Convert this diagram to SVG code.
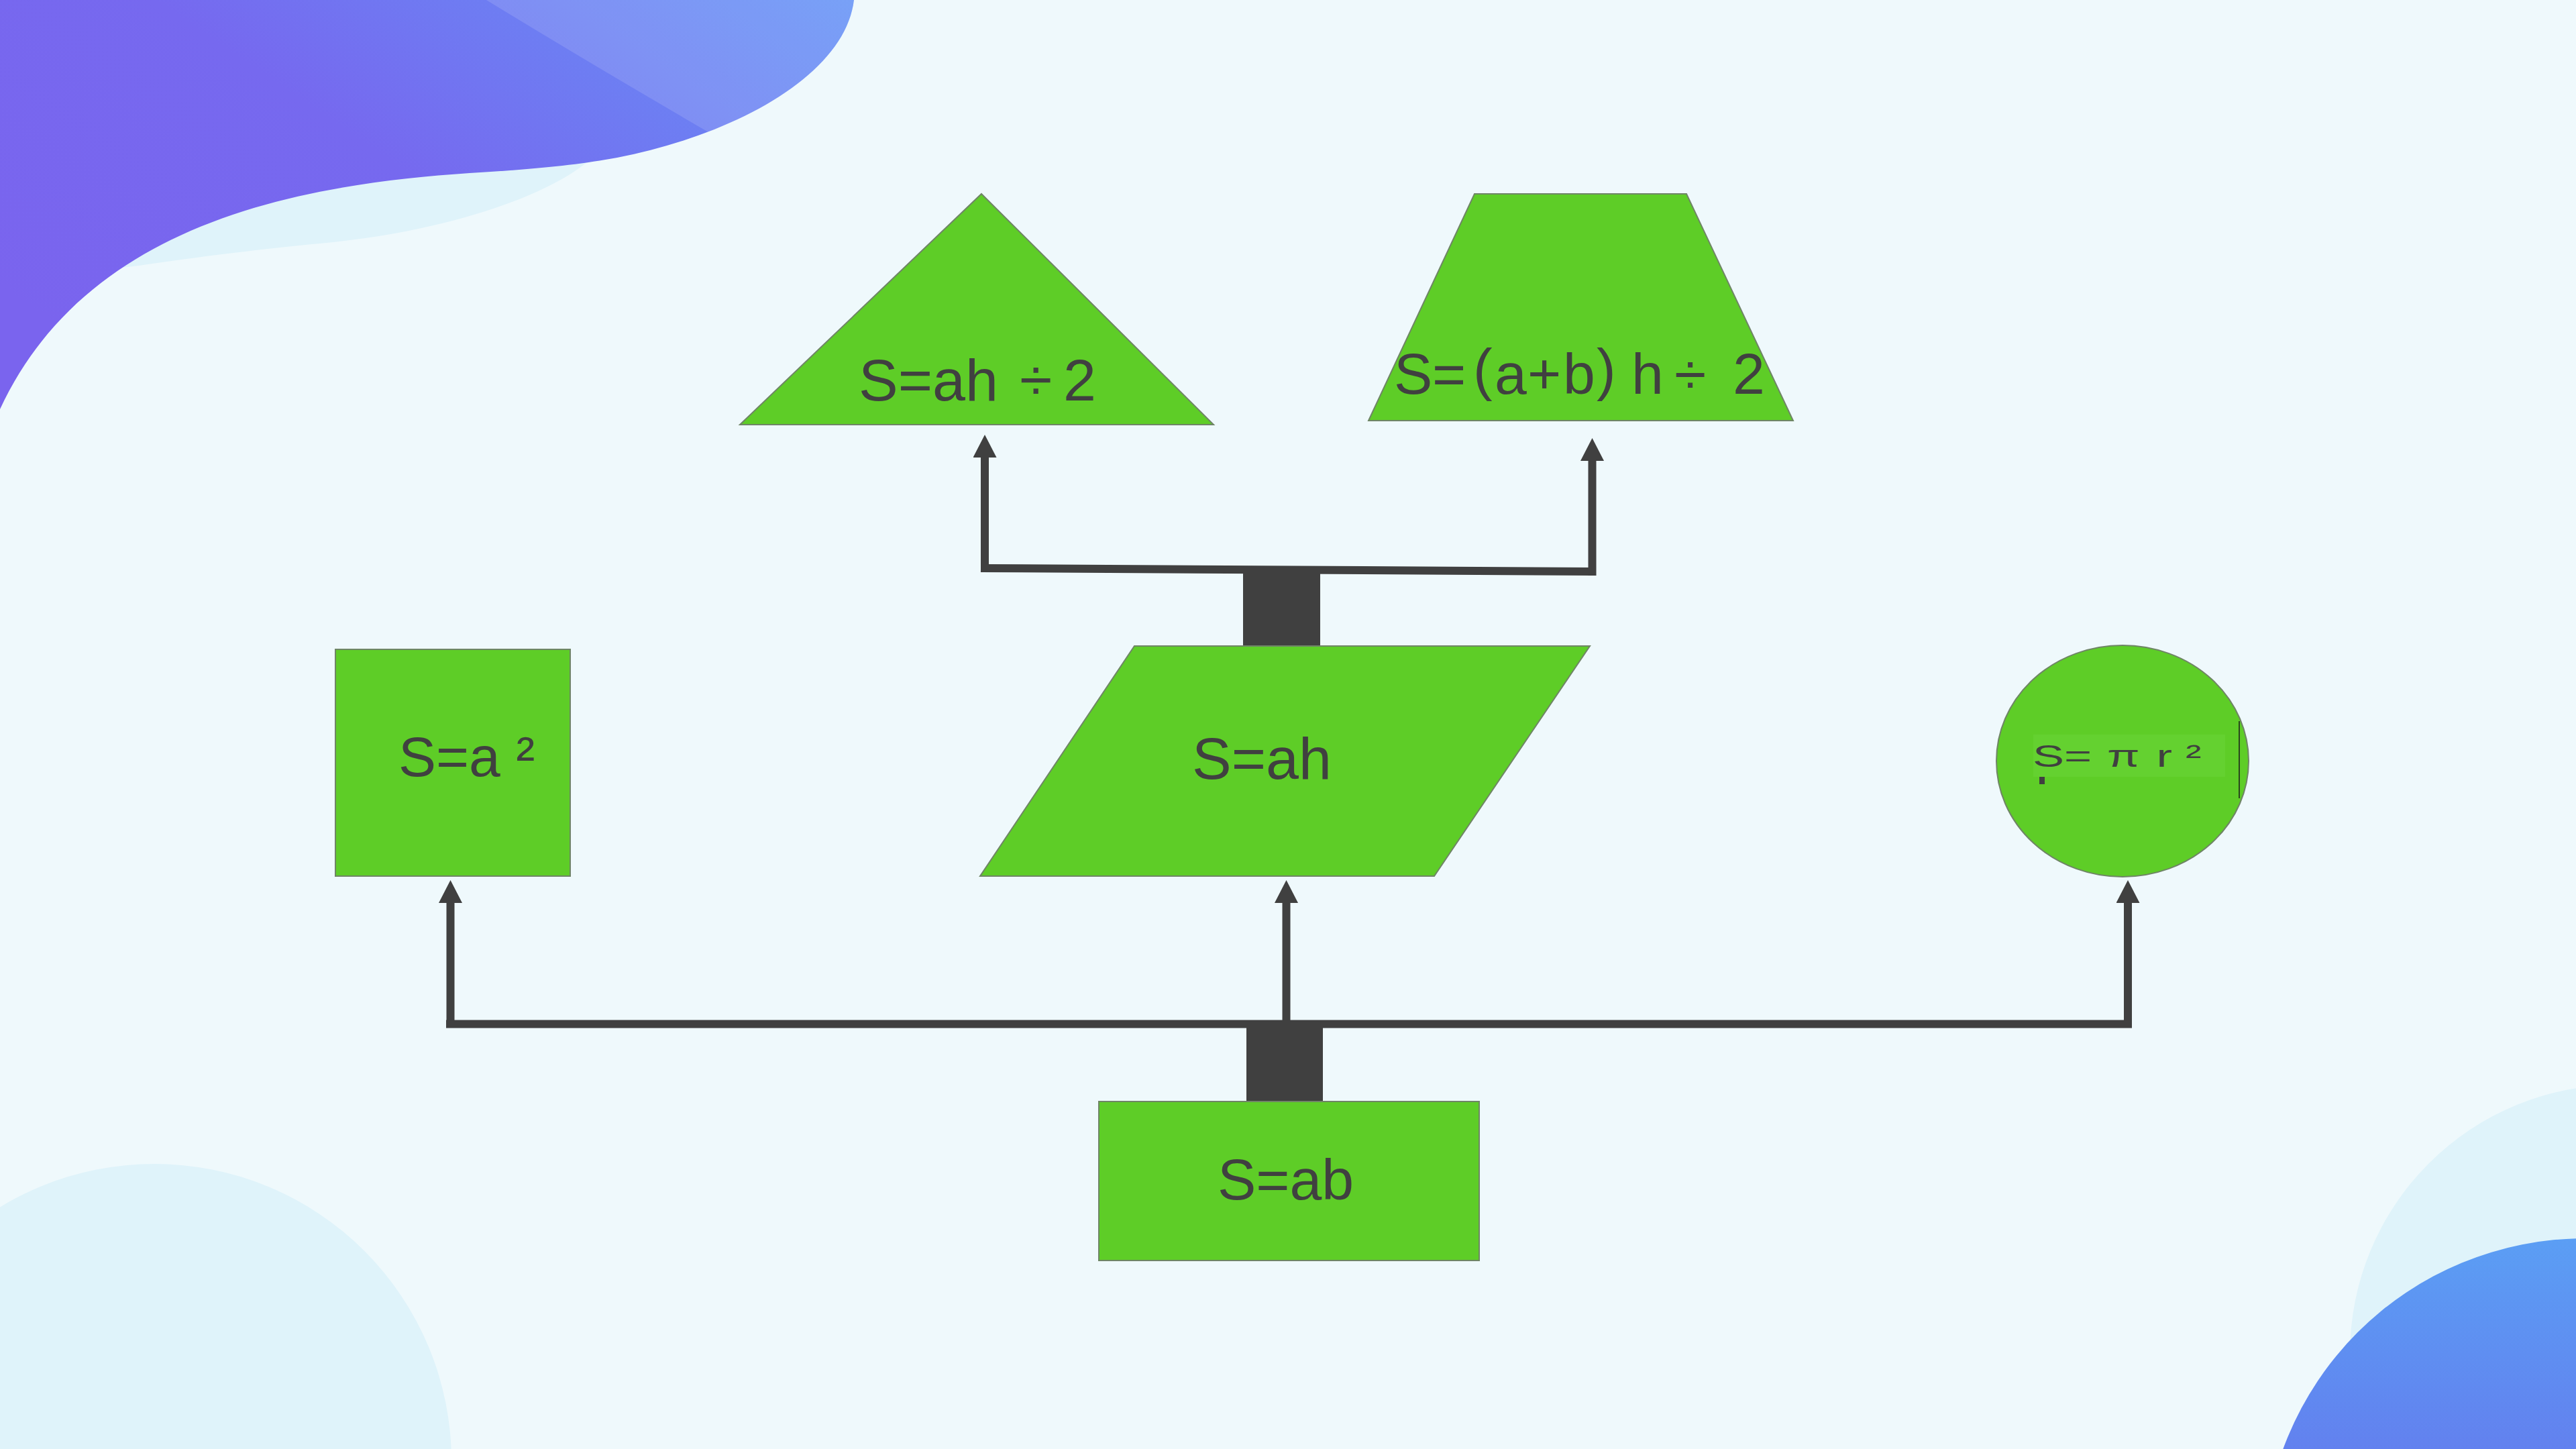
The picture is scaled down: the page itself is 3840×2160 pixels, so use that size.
<svg xmlns="http://www.w3.org/2000/svg" width="3840" height="2160" viewBox="0 0 3840 2160">
<style>
.node{fill:#5ecd27;stroke:#6f8566;stroke-width:2}
.lbl{font-family:"Liberation Sans","Noto Sans CJK SC",sans-serif;fill:#404040}
.conn{stroke:#404040;stroke-width:12;fill:none}
.arr{stroke:#404040;stroke-width:12;fill:none;marker-end:url(#ah)}
.blk{fill:#404040}
</style>
<defs>
<marker id="ah" markerUnits="userSpaceOnUse" viewBox="0 -17.5 34 35" refX="0" refY="0" markerWidth="34" markerHeight="35" orient="auto">
<path d="M0,-17.5 L34,0 L0,17.5 Z" fill="#404040"/>
</marker>
<linearGradient id="gPurple" x1="0" y1="0.7" x2="1" y2="0">
<stop offset="0" stop-color="#7a64ee"/>
<stop offset="0.45" stop-color="#7669ef"/>
<stop offset="1" stop-color="#6593f6"/>
</linearGradient>
<linearGradient id="gBlue" x1="0" y1="0" x2="0" y2="1">
<stop offset="0" stop-color="#5b9ef4"/>
<stop offset="0.5" stop-color="#6672ec"/>
<stop offset="1" stop-color="#6a5fe8"/>
</linearGradient>
<clipPath id="cpPurple">
<path d="M0,0 L1273,0 C1260,110 1100,200 920,235 C860,246 800,252 700,258 C450,275 130,330 0,610 Z"/>
</clipPath>
</defs>
<g id="background">
<rect x="0" y="0" width="3840" height="2160" fill="#eff9fc"/>
<path d="M0,0 L950,0 C940,120 910,215 871,245 C800,300 650,345 497,361 C380,372 280,385 207,396 L0,420 Z" fill="#dff3fa"/>
<path d="M0,0 L1273,0 C1260,110 1100,200 920,235 C860,246 800,252 700,258 C450,275 130,330 0,610 Z" fill="url(#gPurple)"/>
<path d="M725,0 Q880,95 1070,205 L1400,205 L1400,0 Z" fill="#ffffff" fill-opacity="0.13" clip-path="url(#cpPurple)"/>
<circle cx="230" cy="2178" r="443" fill="#dff3fa"/>
<circle cx="3904" cy="2018" r="401" fill="#dff3fa"/>
<circle cx="3853" cy="2325" r="479" fill="url(#gBlue)"/>
</g>
<g id="connectors">
<line class="conn" x1="1462" y1="847" x2="2379" y2="852"/>
<path class="arr" d="M1468,853 V682"/>
<path class="arr" d="M2373.5,858 V687"/>
<rect class="blk" x="1853" y="849" width="115" height="114"/>
<line class="conn" x1="665" y1="1526.5" x2="3178" y2="1526.5"/>
<path class="arr" d="M671.5,1532 V1346"/>
<path class="arr" d="M1917.5,1526 V1346"/>
<path class="arr" d="M3172,1532 V1346"/>
<rect class="blk" x="1858" y="1532" width="114" height="110"/>
</g>
<g id="node-rect">
<rect class="node" x="1638" y="1642" width="567" height="237"/>
<text class="lbl" x="1916.5" y="1788" font-size="86" text-anchor="middle">S=ab</text>
</g>
<g id="node-square">
<rect class="node" x="500" y="968" width="350" height="338"/>
<text class="lbl" x="594" y="1157" font-size="84">S=a ²</text>
</g>
<g id="node-parallelogram">
<polygon class="node" points="1691,963 2370,963 2138,1306 1461,1306"/>
<text class="lbl" x="1881" y="1161" font-size="88" text-anchor="middle">S=ah</text>
</g>
<g id="node-circle">
<ellipse class="node" cx="3164" cy="1134.5" rx="188" ry="172.5"/>
<rect x="3031" y="1095" width="286" height="63" fill="#64d130"/>
<text class="lbl" transform="translate(3033,1143) scale(1.5,1)" font-size="47"><tspan x="-2">S=</tspan><tspan x="59"> π</tspan><tspan x="108"> r</tspan><tspan x="150">²</tspan></text>
<rect x="3040" y="1158" width="8" height="11" fill="#404040"/>
<line x1="3338" y1="1075" x2="3338" y2="1190" stroke="#1a1a1a" stroke-width="1.5"/>
</g>
<g id="node-triangle">
<polygon class="node" points="1463,289 1809,633 1103,633"/>
<text class="lbl" y="597" font-size="88"><tspan x="1280">S=ah</tspan><tspan x="1520">÷</tspan><tspan x="1585">2</tspan></text>
</g>
<g id="node-trapezoid">
<polygon class="node" points="2198,289 2514,289 2673,627 2040,627"/>
<text class="lbl" y="587" font-size="86"><tspan x="2078">S</tspan><tspan x="2135">=</tspan><tspan x="2196" dy="-7">(</tspan><tspan x="2228" dy="7">a</tspan><tspan x="2277">+</tspan><tspan x="2330">b</tspan><tspan x="2380" dy="-7">)</tspan><tspan x="2432" dy="7">h</tspan><tspan x="2496">÷</tspan><tspan x="2583">2</tspan></text>
</g>
</svg>
